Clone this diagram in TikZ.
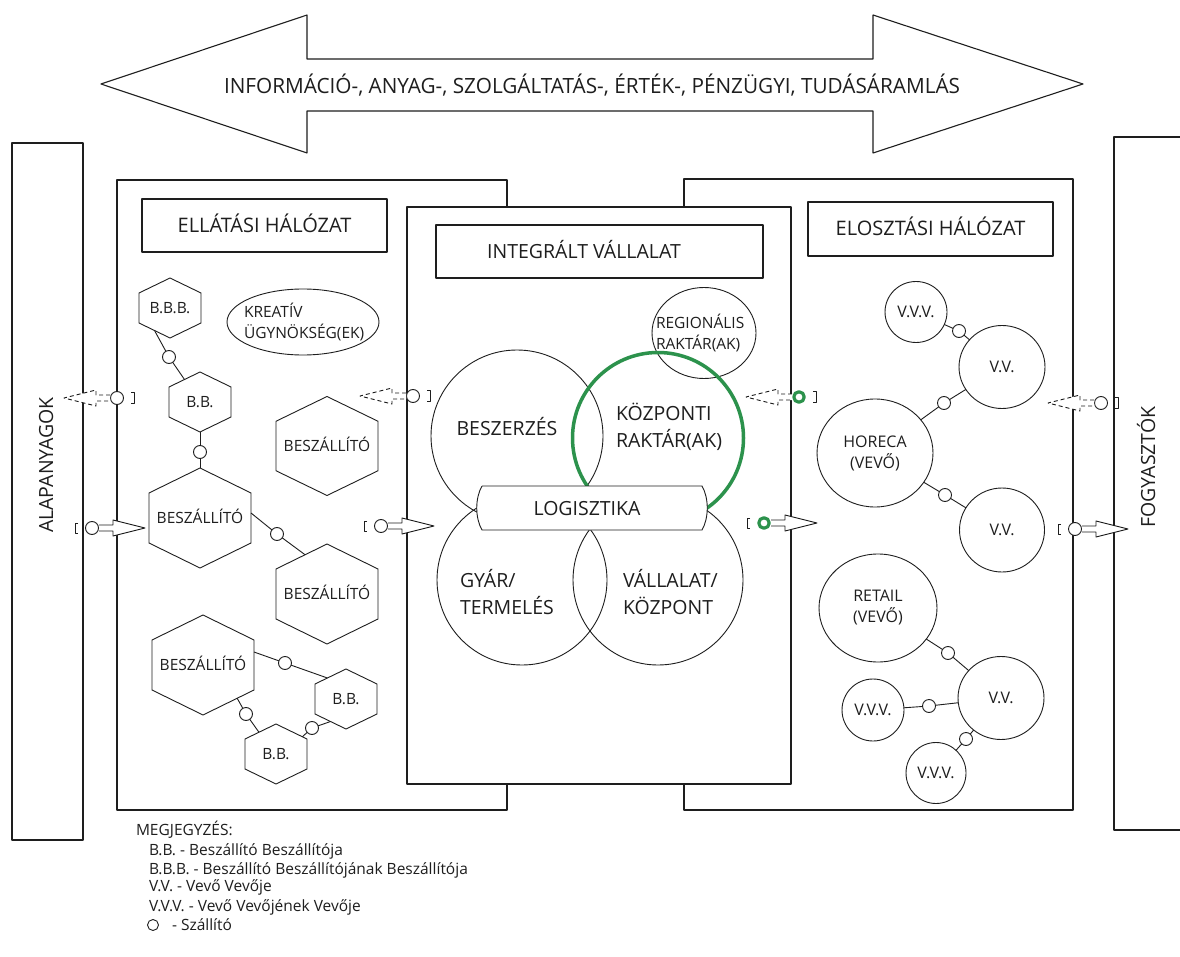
\documentclass[tikz,border=0pt]{standalone}
\usepackage{fontspec}
\usepackage{graphicx}
\setmainfont{Open Sans}
\usetikzlibrary{calc,shapes.geometric}

\definecolor{ink}{RGB}{30,30,30}
\definecolor{flowgreen}{RGB}{44,146,76}

\tikzset{
  every node/.style={text=ink, inner sep=0pt, outer sep=0pt},
  edge/.style={draw=ink, line width=0.9pt},
  panel/.style={draw=ink, line width=1.3pt, anchor=north west},
  titlebox/.style={draw=ink, line width=1.2pt, font=\fontsize{20}{24}\selectfont, text height=14pt, text depth=0pt},
  bigtext/.style={font=\fontsize{19.5}{27}\selectfont, align=left},
  captext/.style={font=\fontsize{19.5}{27}\selectfont, text height=14pt, text depth=0pt},
  midtext/.style={font=\fontsize{15.5}{20.5}\selectfont, align=left},
  hexcore/.style={font=\fontsize{15.5}{19}\selectfont, text height=11pt, text depth=0pt},
  venn/.style={circle, draw=ink, line width=0.9pt},
  oval/.style={ellipse, draw=ink, line width=0.9pt, font=\fontsize{16}{21}\selectfont, align=center},
  ovalone/.style={oval, text height=11.5pt, text depth=0pt},
  carrier/.style={circle, draw=ink, line width=0.9pt, fill=white, minimum size=13pt},
  gcarrier/.style={circle, draw=flowgreen, line width=3.2pt, fill=white, minimum size=10.5pt},
  flowshape/.style={draw=ink, line width=0.9pt, fill=white},
  bracketline/.style={draw=ink, line width=1pt},
  legendtext/.style={font=\fontsize{15.5}{19}\selectfont},
}

% hexagon with pointed top and bottom, built on an invisible node
\newcommand\hexnode[5]{%
  \node[hexcore, minimum width=#3pt, minimum height=#4pt] (#1) at (#2) {#5};
  \coordinate (#1-n) at (#1.north);
  \coordinate (#1-ne) at ($(#1.north east)!.25!(#1.south east)$);
  \coordinate (#1-se) at ($(#1.north east)!.75!(#1.south east)$);
  \coordinate (#1-s) at (#1.south);
  \coordinate (#1-sw) at ($(#1.south west)!.25!(#1.north west)$);
  \coordinate (#1-nw) at ($(#1.south west)!.75!(#1.north west)$);
  \draw[edge] (#1-n) -- (#1-ne) -- (#1-se) -- (#1-s) -- (#1-sw) -- (#1-nw) -- cycle;
}

% forward (material) flow: bracket, carrier, solid block arrow to the right
\newcommand\outflow[3]{%
  \node[#3] (#1) at (#2) {};
  \draw[bracketline] ($(#1.center)+(-14,-5)$) -- ++(-3,0) -- ++(0,10) -- ++(3,0);
  \draw[flowshape] ($(#1.center)+(7,-3)$) -- ++(14,0) -- ++(0,-5)
    -- ($(#1.center)+(53,0)$) -- ($(#1.center)+(21,8)$) -- ++(0,-5) -- ++(-14,0);
}

% backward (information) flow: dashed block arrow to the left, carrier, bracket
\newcommand\backflow[3]{%
  \node[#3] (#1) at (#2) {};
  \draw[bracketline] ($(#1.center)+(14,-5.5)$) -- ++(3,0) -- ++(0,11) -- ++(-3,0);
  \draw[flowshape, dash pattern=on 4pt off 3pt] ($(#1.center)+(-7,-3)$) -- ++(-14,0) -- ++(0,-5)
    -- ($(#1.center)+(-53,0)$) -- ($(#1.center)+(-21,8)$) -- ++(0,-5) -- ++(14,0);
}

\begin{document}
\begin{tikzpicture}[x=1pt, y=-1pt, line join=round]
\useasboundingbox (0,0) rectangle (1180,957);
\fill[white] (0,0) rectangle (1180,957);

% double arrow across the top
\draw[edge, line width=1.1pt] (101,84) -- (307,15) -- (307,59) -- (873,59) -- (873,15)
  -- (1083,84) -- (873,153) -- (873,111) -- (307,111) -- (307,153) -- cycle;
\node[font=\fontsize{21}{24}\selectfont] (flowtitle) at (592,85)
  {\resizebox{736pt}{\height}{INFORMÁCIÓ-, ANYAG-, SZOLGÁLTATÁS-, ÉRTÉK-, PÉNZÜGYI, TUDÁSÁRAMLÁS}};

% outer columns
\node[panel, minimum width=71pt, minimum height=697pt] (rawmat) at (12,143) {};
\node[captext, rotate=90] (rawmattext) at (46,465) {ALAPANYAGOK};
\draw[edge, line width=1.3pt] (1180,137) -- (1114,137) -- (1114,830) -- (1180,830);
\node[captext, rotate=90] (consumertext) at (1148,467) {FOGYASZTÓK};

% network panels
\node[panel, minimum width=390pt, minimum height=630pt] (supplynet) at (117,180) {};
\node[panel, minimum width=389pt, minimum height=631pt] (distnet) at (684,179) {};
\node[panel, fill=white, minimum width=384pt, minimum height=577pt] (firm) at (407,207) {};

\node[titlebox, minimum width=245pt, minimum height=53pt] (supplytitle) at (264.5,225.5) {ELLÁTÁSI HÁLÓZAT};
\node[titlebox, minimum width=327pt, minimum height=53pt] (firmtitle) at (599.5,251.5) {};
\node[captext] (firmtitletext) at (584,252) {INTEGRÁLT VÁLLALAT};
\node[titlebox, minimum width=245pt, minimum height=54pt] (disttitle) at (930.5,229) {ELOSZTÁSI HÁLÓZAT};

% supply network
\hexnode{bbb}{170,308}{62}{60}{B.B.B.}
\hexnode{bbtop}{200,402}{62}{60}{B.B.}
\hexnode{supleft}{200,518}{102}{100}{BESZÁLLÍTÓ}
\hexnode{supright}{327,446}{102}{99}{BESZÁLLÍTÓ}
\hexnode{suplow}{327,594}{102}{100}{BESZÁLLÍTÓ}
\hexnode{supbottom}{203,665}{102}{100}{BESZÁLLÍTÓ}
\hexnode{bbright}{346,699}{62}{60}{B.B.}
\hexnode{bbbottom}{276,754}{62}{60}{B.B.}

\node[ellipse, draw=ink, line width=0.9pt, minimum width=152pt, minimum height=66pt] (agency) at (303,322) {};
\node[midtext, anchor=west] (agencytext) at (244,322) {KREATÍV\\ÜGYNÖKSÉG(EK)};

\node[carrier] (k1) at (169,357) {};
\draw[edge] ($(bbb-s)!.5!(bbb-sw)$) -- (k1) -- ($(bbtop-n)!.5!(bbtop-nw)$);
\node[carrier] (k2) at (200,452) {};
\draw[edge] (bbtop-s) -- (k2) -- (supleft-n);
\node[carrier] (k3) at (277,534) {};
\draw[edge] ($(supleft-ne)!.4!(supleft-se)$) -- (k3) -- ($(suplow-n)!.43!(suplow-nw)$);
\node[carrier] (k4) at (285,663) {};
\draw[edge] ($(supbottom-ne)!.24!(supbottom-se)$) -- (k4) -- ($(bbright-n)!.6!(bbright-nw)$);
\node[carrier] (k5) at (246,714) {};
\draw[edge] ($(supbottom-se)!.33!(supbottom-s)$) -- (k5) -- ($(bbbottom-n)!.55!(bbbottom-nw)$);
\node[carrier] (k6) at (312,728) {};
\draw[edge] ($(bbbottom-n)!.85!(bbbottom-ne)$) -- (k6) -- ($(bbright-sw)!.5!(bbright-s)$);

% integrated firm
\node[venn, minimum size=172pt] (procure) at (517,436) {};
\node[venn, minimum size=170pt] (plant) at (522,580) {};
\node[venn, minimum size=170pt] (hq) at (658,580) {};
\node[ellipse, draw=ink, line width=0.9pt, minimum width=104pt, minimum height=91pt] (regional) at (704,333) {};
\node[circle, draw=flowgreen, line width=3.5pt, minimum size=171pt] (central) at (658,438) {};

\node[minimum width=220pt, minimum height=44pt] (logistics) at (592,508) {};
\draw[edge, fill=white] (logistics.north west) -- (logistics.north east)
  .. controls +(7,12) and +(7,-12) .. (logistics.south east) -- (logistics.south west)
  .. controls +(-7,-12) and +(-7,12) .. (logistics.north west);
\node[captext] (logisticstext) at (587,508) {LOGISZTIKA};

\node[captext] (procuretext) at (507,428) {BESZERZÉS};
\node[bigtext, anchor=west] (centraltext) at (616,427) {KÖZPONTI\\RAKTÁR(AK)};
\node[bigtext, anchor=west] (planttext) at (460,592) {GYÁR/\\TERMELÉS};
\node[bigtext, anchor=west] (hqtext) at (623,592) {VÁLLALAT/\\KÖZPONT};
\node[midtext, anchor=west] (regionaltext) at (656,333) {REGIONÁLIS\\RAKTÁR(AK)};

% distribution network
\node[ovalone, minimum width=62pt, minimum height=61pt] (vvvtop) at (916,312) {V.V.V.};
\node[ovalone, minimum width=86pt, minimum height=83pt] (vvtop) at (1002,367) {V.V.};
\node[oval, minimum width=116pt, minimum height=108pt] (horeca) at (875,453) {HORECA\\(VEVŐ)};
\node[ovalone, minimum width=85pt, minimum height=84pt] (vvmid) at (1002,530) {V.V.};
\node[oval, minimum width=118pt, minimum height=108pt] (retail) at (878,608) {RETAIL\\(VEVŐ)};
\node[ovalone, minimum width=86pt, minimum height=83pt] (vvlow) at (1001,698) {V.V.};
\node[ovalone, minimum width=62pt, minimum height=62pt] (vvvleft) at (873,710) {V.V.V.};
\node[ovalone, minimum width=60pt, minimum height=61pt] (vvvbottom) at (936,773) {V.V.V.};

\node[carrier] (r1) at (959,331) {};
\draw[edge] (vvvtop) -- (r1) -- (vvtop);
\node[carrier] (r2) at (944,403) {};
\draw[edge] (horeca) -- (r2) -- (vvtop);
\node[carrier] (r3) at (945,495) {};
\draw[edge] (horeca) -- (r3) -- (vvmid);
\node[carrier] (r4) at (948,653) {};
\draw[edge] (retail) -- (r4) -- (vvlow);
\node[carrier] (r5) at (929,706) {};
\draw[edge] (vvvleft) -- (r5) -- (vvlow);
\node[carrier] (r6) at (966,739) {};
\draw[edge] (vvlow) -- (r6) -- (vvvbottom);

% flows across the borders
\outflow{in1}{92,528}{carrier}
\backflow{back1}{117,398}{carrier}
\outflow{in2}{381,526}{carrier}
\backflow{back2}{413,396}{carrier}
\outflow{out1}{764,523}{gcarrier}
\backflow{back3}{799,397}{gcarrier}
\outflow{out2}{1075,529}{carrier}
\backflow{back4}{1101,403}{carrier}

% notes
\node[legendtext, anchor=base west] (notehead) at (136,835.5) {MEGJEGYZÉS:};
\node[legendtext, anchor=base west] (note1) at (149,855) {B.B. - Beszállító Beszállítója};
\node[legendtext, anchor=base west] (note2) at (149,874) {B.B.B. - Beszállító Beszállítójának Beszállítója};
\node[legendtext, anchor=base west] (note3) at (149,891.5) {V.V. - Vevő Vevője};
\node[legendtext, anchor=base west] (note4) at (149,911) {V.V.V. - Vevő Vevőjének Vevője};
\node[carrier, minimum size=11pt] (notekey) at (153,925) {};
\node[legendtext, anchor=base west] (note5) at (172,930.5) {- Szállító};
\end{tikzpicture}
\end{document}
